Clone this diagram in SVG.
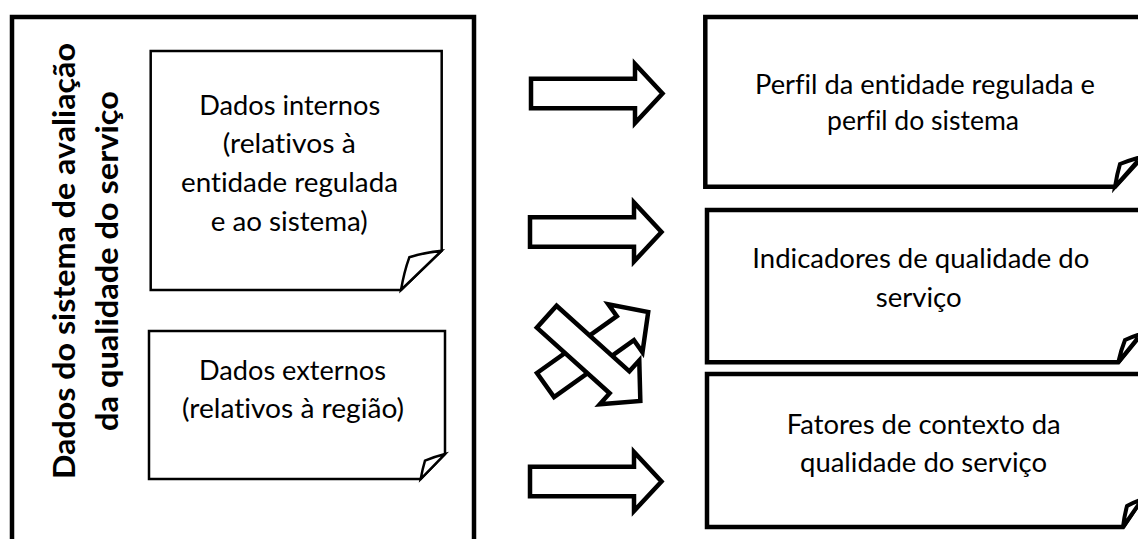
<svg xmlns="http://www.w3.org/2000/svg" width="1138" height="539" viewBox="0 0 1138 539">
<style>
  .bg { fill: #ffffff; }
  .frame { fill: #ffffff; stroke: #000; stroke-width: 4.5; stroke-linejoin: miter; }
  .note { fill: #ffffff; stroke: #000; stroke-width: 2.5; stroke-linejoin: miter; }
  .fold { fill: #ffffff; stroke: #000; stroke-linejoin: miter; }
  .arrow { fill: #ffffff; stroke: #000; stroke-width: 4.5; stroke-linejoin: miter; stroke-miterlimit: 10; }
  .t { font-family: Lato, "Open Sans", "Liberation Sans", sans-serif; font-size: 26px; fill: #000; text-anchor: middle; font-variant-ligatures: none; }
  .tb { font-family: Lato, "Open Sans", "Liberation Sans", sans-serif; font-size: 30px; font-weight: bold; fill: #000; text-anchor: middle; font-variant-ligatures: none; }
</style>
<defs>
  <path id="harrow" d="M0,-14.75 H104 V-29.5 L131.5,0 L104,29.5 V14.75 H0 Z"/>
  <path id="darrow" d="M0,-14.75 H98 V-29.5 L126,0 L98,29.5 V14.75 H0 Z"/>
</defs>
<rect class="bg" x="0" y="0" width="1138" height="539"/>

<g id="source">
  <rect class="frame" x="12" y="17" width="462" height="570"/>
  <text class="tb" transform="translate(75,261) rotate(-90)" textLength="436" lengthAdjust="spacingAndGlyphs">Dados do sistema de avaliação</text>
  <text class="tb" transform="translate(118,261) rotate(-90)" textLength="340" lengthAdjust="spacingAndGlyphs">da qualidade do serviço</text>
</g>

<g id="internos">
  <path class="note" d="M150.7,51 H441.7 V250.7 L401,290 H150.7 Z"/>
  <path class="fold" stroke-width="2.5" d="M401,290 Q404,272 409.3,257.3 Q424,252.5 441.7,250.7 Z"/>
  <text class="t" x="289.7" y="115" textLength="181" lengthAdjust="spacingAndGlyphs">Dados internos</text>
  <text class="t" x="289.2" y="153.3" textLength="133" lengthAdjust="spacingAndGlyphs">(relativos à</text>
  <text class="t" x="289.5" y="192.3" textLength="217" lengthAdjust="spacingAndGlyphs">entidade regulada</text>
  <text class="t" x="289.2" y="231" textLength="157" lengthAdjust="spacingAndGlyphs">e ao sistema)</text>
</g>

<g id="externos">
  <path class="note" d="M149,331 H445 V454 L420.7,479 H149 Z"/>
  <path class="fold" stroke-width="2.5" d="M420.7,479 Q422.5,469 425,460.7 Q435,456.5 445,454 Z"/>
  <text class="t" x="292.5" y="380" textLength="187" lengthAdjust="spacingAndGlyphs">Dados externos</text>
  <text class="t" x="293" y="418.3" textLength="222" lengthAdjust="spacingAndGlyphs">(relativos à região)</text>
</g>

<g id="perfil">
  <path class="frame" d="M705.3,17 H1144 V155 L1115,186.7 H705.3 Z"/>
  <path class="fold" stroke-width="4" d="M1115,186.7 Q1117,174 1120,164 Q1130,160 1141,157 Z"/>
  <text class="t" x="925" y="94" textLength="340" lengthAdjust="spacingAndGlyphs">Perfil da entidade regulada e</text>
  <text class="t" x="923" y="129.5" textLength="192" lengthAdjust="spacingAndGlyphs">perfil do sistema</text>
</g>

<g id="indicadores">
  <path class="frame" d="M707,210 H1144 V331 L1118.3,362.3 H707 Z"/>
  <path class="fold" stroke-width="4" d="M1118.3,362.3 Q1121,350 1125,340 Q1133,336.5 1141,334 Z"/>
  <text class="t" x="920.8" y="268.3" textLength="337" lengthAdjust="spacingAndGlyphs">Indicadores de qualidade do</text>
  <text class="t" x="918.7" y="306.7" textLength="86" lengthAdjust="spacingAndGlyphs">serviço</text>
</g>

<g id="fatores">
  <path class="frame" d="M707,374 H1144 V496 L1123,527 H707 Z"/>
  <path class="fold" stroke-width="4" d="M1123,527 Q1124.5,515 1127,506 Q1134,502 1142,499.5 Z"/>
  <text class="t" x="923.7" y="434" textLength="274" lengthAdjust="spacingAndGlyphs">Fatores de contexto da</text>
  <text class="t" x="923.5" y="471.7" textLength="247" lengthAdjust="spacingAndGlyphs">qualidade do serviço</text>
</g>

<g id="connectors">
  <use href="#harrow" class="arrow" transform="translate(531,93.5)"/>
  <use href="#harrow" class="arrow" transform="translate(530,232)"/>
  <use href="#darrow" class="arrow" transform="translate(545.5,385) rotate(-35.4)"/>
  <use href="#darrow" class="arrow" transform="translate(546.7,316.7) rotate(42)"/>
  <use href="#harrow" class="arrow" transform="translate(530,481.5)"/>
</g>
</svg>
